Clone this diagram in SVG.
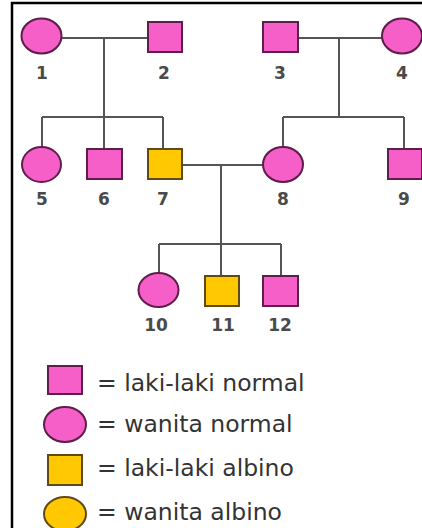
<svg xmlns="http://www.w3.org/2000/svg" width="422" height="528" viewBox="0 0 422 528">
<style>
.pk{fill:#f65fc8;stroke:#5e1d4a;stroke-width:2}
.yl{fill:#ffc800;stroke:#5e4a12;stroke-width:2}
.ln{stroke:#555;stroke-width:2;fill:none}
.num{font-family:"DejaVu Sans",Verdana,sans-serif;font-size:17px;font-weight:bold;fill:#4a4a4a;text-anchor:middle}
.lg{font-family:"DejaVu Sans",Verdana,sans-serif;font-size:23.5px;fill:#333}
</style>
<rect width="422" height="528" fill="#fff"/>
<path d="M12 528 V3 H422" fill="none" stroke="#000" stroke-width="2.5"/>
<g id="connectors">
<path class="ln" d="M61 38 H148 M104 38 V117 M42 117 H163 M42 117 V147 M104 117 V149 M163 117 V149"/>
<path class="ln" d="M298 38 H382 M339 38 V117 M283 117 H404 M283 117 V147 M404 117 V149"/>
<path class="ln" d="M182 165 H263 M221 165 V244 M159 244 H281 M159 244 V273 M221 244 V276 M281 244 V276"/>
</g>
<g id="n1"><ellipse class="pk" cx="41.5" cy="36" rx="20" ry="17.5"/><text class="num" x="42" y="79">1</text></g>
<g id="n2"><rect class="pk" x="148" y="22" width="34" height="30"/><text class="num" x="164" y="79">2</text></g>
<g id="n3"><rect class="pk" x="263" y="22" width="35" height="30"/><text class="num" x="280" y="79">3</text></g>
<g id="n4"><ellipse class="pk" cx="402" cy="36" rx="20" ry="17.5"/><text class="num" x="402" y="79">4</text></g>
<g id="n5"><ellipse class="pk" cx="41.5" cy="164.5" rx="19.5" ry="17.5"/><text class="num" x="42" y="205">5</text></g>
<g id="n6"><rect class="pk" x="87" y="149" width="35" height="30"/><text class="num" x="104" y="205">6</text></g>
<g id="n7"><rect class="yl" x="148" y="149" width="34" height="30"/><text class="num" x="163" y="205">7</text></g>
<g id="n8"><ellipse class="pk" cx="283" cy="164.5" rx="20" ry="17.5"/><text class="num" x="283" y="205">8</text></g>
<g id="n9"><rect class="pk" x="388" y="149" width="34" height="30"/><text class="num" x="404" y="205">9</text></g>
<g id="n10"><ellipse class="pk" cx="158.5" cy="290" rx="20" ry="17"/><text class="num" x="156" y="331">10</text></g>
<g id="n11"><rect class="yl" x="205" y="276" width="34" height="30"/><text class="num" x="223" y="331">11</text></g>
<g id="n12"><rect class="pk" x="263" y="276" width="35" height="30"/><text class="num" x="280" y="331">12</text></g>
<g id="legend">
<rect class="pk" x="48" y="366" width="34" height="28"/>
<text class="lg" x="97" y="391">= laki-laki normal</text>
<ellipse class="pk" cx="65" cy="424.5" rx="21" ry="17.5"/>
<text class="lg" x="97" y="432">= wanita normal</text>
<rect class="yl" x="48" y="455" width="34" height="30"/>
<text class="lg" x="97" y="476">= laki-laki albino</text>
<ellipse class="yl" cx="65" cy="514" rx="21" ry="17"/>
<text class="lg" x="97" y="520">= wanita albino</text>
</g>
</svg>
